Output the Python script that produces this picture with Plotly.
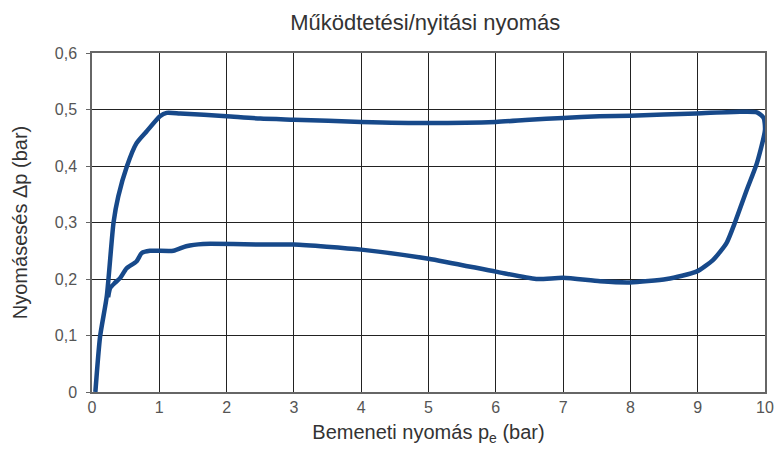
import plotly.graph_objects as go

# Closed hysteresis loop: rising (upper) branch then returning (lower) branch
upper_x = [0.05, 0.12, 0.22, 0.32, 0.39, 0.52, 0.66, 0.81, 1.01, 1.11, 1.31, 2.0, 2.5, 3.0, 4.0, 5.0, 6.0, 6.5, 7.0, 7.54, 8.0, 8.98, 9.63, 9.88, 9.98, 10.0]
upper_y = [0.0, 0.098, 0.17, 0.30, 0.346, 0.40, 0.44, 0.461, 0.488, 0.494, 0.493, 0.488, 0.484, 0.482, 0.478, 0.476, 0.478, 0.482, 0.485, 0.488, 0.489, 0.493, 0.496, 0.495, 0.485, 0.464]
lower_x = [9.88, 9.73, 9.55, 9.43, 9.23, 8.98, 8.54, 7.99, 7.55, 7.0, 6.6, 6.0, 5.0, 4.0, 3.0, 2.5, 1.65, 1.40, 1.21, 0.86, 0.74, 0.66, 0.515, 0.42, 0.34, 0.27, 0.24]
lower_y = [0.405, 0.358, 0.299, 0.264, 0.234, 0.213, 0.200, 0.194, 0.196, 0.202, 0.200, 0.213, 0.236, 0.252, 0.261, 0.261, 0.262, 0.258, 0.250, 0.250, 0.246, 0.231, 0.219, 0.202, 0.193, 0.184, 0.168]

x_ticks = [0, 1, 2, 3, 4, 5, 6, 7, 8, 9, 10]
x_tick_labels = ["0", "1", "2", "3", "4", "5", "6", "7", "8", "9", "10"]
y_ticks = [0, 0.1, 0.2, 0.3, 0.4, 0.5, 0.6]
y_tick_labels = ["0", "0,1", "0,2", "0,3", "0,4", "0,5", "0,6"]

FONT = "Liberation Sans, Arial, sans-serif"

fig = go.Figure()
fig.add_trace(go.Scatter(
    x=upper_x + lower_x, y=upper_y + lower_y,
    mode="lines",
    line=dict(color="#17498a", width=4.5, shape="spline", smoothing=0.6),
    showlegend=False, hoverinfo="skip",
))

fig.update_layout(
    width=776, height=455,
    margin=dict(l=92, r=11, t=53, b=63),
    paper_bgcolor="white", plot_bgcolor="white",
    title=dict(text="Működtetési/nyitási nyomás", x=0.548, xanchor="center",
               y=0.952, yanchor="middle",
               font=dict(family=FONT, size=22, color="#333333")),
    font=dict(family=FONT, color="#444444"),
)
fig.update_xaxes(
    range=[0, 10], tickvals=x_ticks, ticktext=x_tick_labels,
    showgrid=True, gridcolor="#222222", gridwidth=1,
    showline=True, linecolor="#666666", linewidth=1.5, mirror=True,
    zeroline=False, ticks="", tickfont=dict(size=16, color="#555555"),
    automargin=False,
    title=dict(text="Bemeneti nyomás p<sub>e</sub> (bar)", standoff=10,
               font=dict(size=20, color="#333333")),
)
fig.update_yaxes(
    range=[0, 0.6], tickvals=y_ticks, ticktext=y_tick_labels,
    showgrid=True, gridcolor="#222222", gridwidth=1,
    showline=True, linecolor="#666666", linewidth=1.5, mirror=True,
    zeroline=False, ticks="outside", ticklen=4, tickcolor="#666666",
    ticklabelstandoff=6, tickfont=dict(size=16, color="#555555"),
    automargin=False,
    title=dict(text="Nyomásesés Δp (bar)", standoff=22,
               font=dict(size=20, color="#333333")),
)

fig.write_html("out.html", config={"displayModeBar": False},
               post_script="document.body.style.margin='0';")
